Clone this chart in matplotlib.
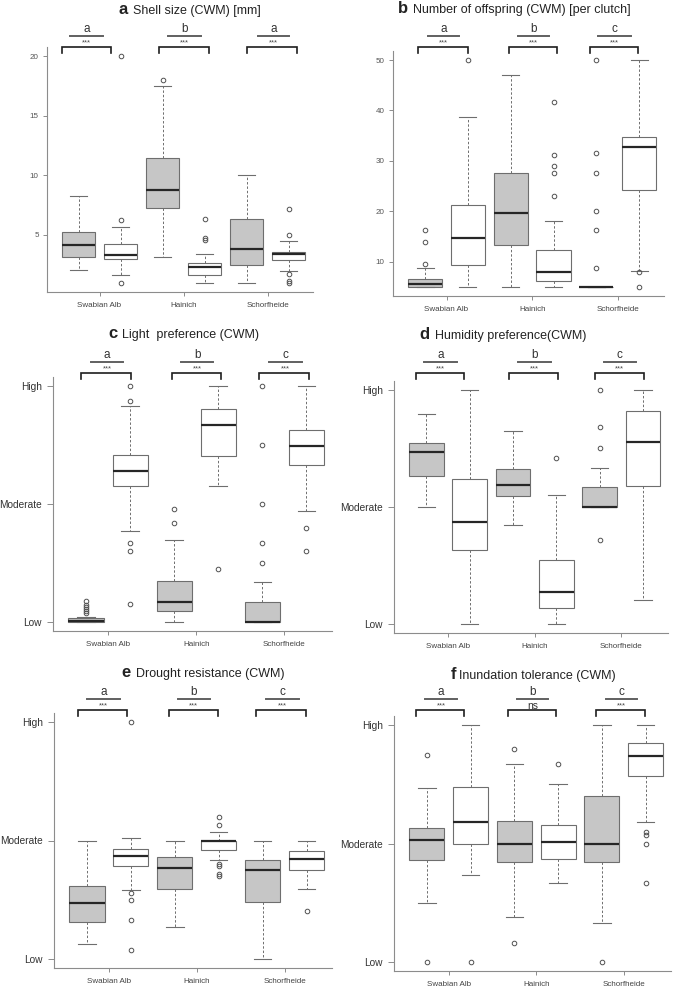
import numpy as np
import matplotlib
matplotlib.use("Agg")
import matplotlib.pyplot as plt
from matplotlib import transforms

plt.rcParams['font.family'] = ['Liberation Sans', 'DejaVu Sans']

# box stats per panel: [whisker low, q1, median, q3, whisker high] for
# Swabian Alb (grey, white), Hainich (grey, white), Schorfheide (grey, white)
shell_stats = [[2.1, 3.13, 4.13, 5.25, 8.24], [1.65, 2.99, 3.3, 4.25, 5.64],
               [3.18, 7.26, 8.8, 11.42, 17.5], [0.98, 1.68, 2.35, 2.65, 3.41],
               [0.98, 2.49, 3.85, 6.37, 10.0], [2.0, 2.9, 3.4, 3.6, 4.5]]
shell_fliers = [[], [20, 6.23, 0.98], [18], [6.3, 4.75, 4.6], [], [7.18, 5.0, 1.7, 1.17, 0.98]]

offspring_stats = [[5.0, 5.06, 5.5, 6.64, 8.8], [5.0, 9.34, 14.7, 21.3, 38.7],
                   [5.0, 13.3, 19.6, 27.5, 47.0], [5.0, 6.2, 8.0, 12.4, 18.1],
                   [5.0, 5.0, 5.0, 5.0, 5.0], [8.2, 24.2, 32.8, 34.8, 50.0]]
offspring_fliers = [[16.26, 14.0, 9.47], [50], [], [41.6, 31.2, 29.0, 27.5, 23.0],
                    [50, 31.5, 27.5, 20.0, 16.3, 8.8], [8.0, 5.0]]

light_stats = [[0, 0, 0.005, 0.028, 0.042], [0.77, 1.15, 1.28, 1.42, 1.83],
               [0, 0.093, 0.17, 0.345, 0.695], [1.15, 1.41, 1.67, 1.81, 2.0],
               [0, 0, 0, 0.167, 0.333], [0.94, 1.33, 1.49, 1.63, 2.0]]
light_fliers = [[0.07, 0.09, 0.11, 0.12, 0.14, 0.175], [2.0, 1.88, 0.67, 0.60, 0.15],
                [0.96, 0.84], [0.446], [2.0, 1.5, 1.0, 0.67, 0.5], [0.80, 0.60]]

humid_stats = [[1.0, 1.268, 1.473, 1.547, 1.795], [0, 0.63, 0.869, 1.242, 2.0],
               [0.849, 1.094, 1.185, 1.328, 1.655], [0, 0.137, 0.27, 0.55, 1.10],
               [1.0, 1.0, 1.0, 1.168, 1.336], [0.2, 1.18, 1.553, 1.826, 2.0]]
humid_fliers = [[], [], [], [1.42], [2.0, 1.684, 1.504, 0.715], []]

drought_stats = [[0.124, 0.31, 0.47, 0.611, 1.0], [0.583, 0.78, 0.865, 0.927, 1.025],
                 [0.268, 0.592, 0.763, 0.859, 1.0], [0.831, 0.921, 1.0, 1.0, 1.068],
                 [0, 0.479, 0.749, 0.831, 1.0], [0.592, 0.749, 0.842, 0.91, 1.0]]
drought_fliers = [[], [2.0, 0.555, 0.499, 0.33, 0.073], [],
                  [1.203, 1.13, 0.80, 0.78, 0.718, 0.70], [], [0.4]]

inund_stats = [[0.496, 0.86, 1.03, 1.131, 1.472], [0.736, 1.0, 1.182, 1.475, 2.0],
               [0.375, 0.843, 1.0, 1.188, 1.67], [0.669, 0.869, 1.016, 1.157, 1.503],
               [0.33, 0.843, 1.0, 1.399, 2.0], [1.182, 1.574, 1.738, 1.85, 2.0]]
inund_fliers = [[1.752, 0], [0], [1.80, 0.16], [1.67], [0], [1.10, 1.07, 1.0, 0.666]]

sites = ['Swabian Alb', 'Hainich', 'Schorfheide']
panel_letters = ['a', 'b', 'c', 'd', 'e', 'f']
panel_titles = ['Shell size (CWM) [mm]', 'Number of offspring (CWM) [per clutch]',
                'Light  preference (CWM)', 'Humidity preference(CWM)',
                'Drought resistance (CWM)', 'Inundation tolerance (CWM)']
group_letters = ['a', 'b', 'a', 'a', 'b', 'c', 'a', 'b', 'c',
                 'a', 'b', 'c', 'a', 'b', 'c', 'a', 'b', 'c']
signif = [['***', '***', '***'], ['***', '***', '***'], ['***', '***', '***'],
          ['***', '***', '***'], ['***', '***', '***'], ['***', 'ns', '***']]
level_ticks = [0, 1, 2]
level_labels = ['Low', 'Moderate', 'High']

W, H = 675, 990
fig = plt.figure(figsize=(W / 100, H / 100), dpi=100)

# layout in pixels: left, top, right, bottom of plot area
boxes_px = [(47, 47, 313, 292), (393, 51, 664, 296),
            (53, 377, 332, 631), (394, 381, 668, 633),
            (54, 713, 332, 968), (394, 716, 671, 971)]
# title: text start x, baseline y, gap before bold letter
title_px = [(133, 14, 5), (413, 13, 5), (122, 338, 4), (435, 339, 5), (136, 677, 5), (459, 679, 3)]
bracket_y = [47, 47, 373, 373, 710, 710]
brackets = [[(0.61, 1.78), (2.92, 4.11), (5.02, 6.21)],
            [(0.84, 2.0), (2.95, 4.09), (4.84, 5.98)],
            [(0.89, 2.02), (2.95, 4.07), (4.93, 6.05)],
            [(0.75, 1.87), (2.91, 4.03), (4.89, 6.02)],
            [(0.80, 1.91), (2.86, 3.98), (4.86, 5.98)],
            [(0.75, 1.86), (2.85, 3.96), (4.86, 5.99)]]
shorts = [[(0.8, 1.59), (3.14, 3.92), (5.26, 6.02)],
          [(1.07, 1.79), (3.16, 3.9), (5.05, 5.81)],
          [(1.11, 1.84), (3.16, 3.89), (5.14, 5.89)],
          [(0.95, 1.71), (3.11, 3.87), (5.09, 5.83)],
          [(1.0, 1.75), (3.07, 3.80), (5.07, 5.82)],
          [(0.95, 1.70), (3.06, 3.78), (5.09, 5.81)]]

all_stats = [shell_stats, offspring_stats, light_stats, humid_stats, drought_stats, inund_stats]
all_fliers = [shell_fliers, offspring_fliers, light_fliers, humid_fliers, drought_fliers, inund_fliers]
yticks_num = [[5, 10, 15, 20], [10, 20, 30, 40, 50]]

grey_fill = '#c6c6c6'
edge = '#6e6e6e'
axis_col = '#8c8c8c'


def fy(ypx):
    return 1 - ypx / H


for i in range(6):
    l, t, r, b = boxes_px[i]
    ax = fig.add_axes([l / W, 1 - b / H, (r - l) / W, (b - t) / H])
    stats = []
    for s, fl in zip(all_stats[i], all_fliers[i]):
        stats.append(dict(whislo=s[0], q1=s[1], med=s[2], q3=s[3], whishi=s[4], fliers=fl))
    bp = ax.bxp(stats, positions=range(1, 7), widths=0.8, capwidths=0.4,
                patch_artist=True, manage_ticks=False,
                boxprops=dict(edgecolor=edge, linewidth=0.8),
                medianprops=dict(color='#262626', linewidth=1.6),
                whiskerprops=dict(color=edge, linewidth=0.7, linestyle=(0, (2.5, 2))),
                capprops=dict(color=edge, linewidth=0.8),
                flierprops=dict(marker='o', markersize=3.3, markerfacecolor='none',
                                markeredgecolor='#505050', markeredgewidth=0.7))
    for k, patch in enumerate(bp['boxes']):
        patch.set_facecolor(grey_fill if k % 2 == 0 else 'white')

    lo = min(min(s[0] for s in all_stats[i]), min(min(f) if f else 99 for f in all_fliers[i]))
    hi = max(max(s[4] for s in all_stats[i]), max(max(f) if f else -99 for f in all_fliers[i]))
    rng = hi - lo
    ax.set_ylim(lo - 0.04 * rng, hi + 0.04 * rng)
    ax.set_xlim(0.25, 6.58)

    for sp in ['top', 'right']:
        ax.spines[sp].set_visible(False)
    for sp in ['left', 'bottom']:
        ax.spines[sp].set_color(axis_col)
        ax.spines[sp].set_linewidth(0.8)

    ax.set_xticks([1.5, 3.5, 5.5])
    ax.set_xticklabels(sites, fontsize=5.8, color='#444444')
    ax.tick_params(axis='x', length=3, width=0.7, color=axis_col, pad=4)
    if i < 2:
        ax.set_yticks(yticks_num[i])
        ax.set_yticklabels([str(v) for v in yticks_num[i]], fontsize=5.8, color='#555555')
        ax.tick_params(axis='y', length=3, width=0.7, color=axis_col, pad=3)
    else:
        ax.set_yticks(level_ticks)
        ax.set_yticklabels(level_labels, fontsize=7.3, color='#333333')
        ax.tick_params(axis='y', length=4, width=0.7, color=axis_col, pad=4)

    # title
    tx, ty, gap = title_px[i]
    fig.text((tx - gap) / W, fy(ty), panel_letters[i], ha='right', va='baseline',
             fontsize=12, fontweight='bold', color='#222222')
    fig.text(tx / W, fy(ty), panel_titles[i], ha='left', va='baseline',
             fontsize=9, color='#222222')

    # significance brackets
    trans = transforms.blended_transform_factory(ax.transData, fig.transFigure)
    yb = bracket_y[i]
    for g in range(3):
        x0, x1 = brackets[i][g]
        ax.plot([x0, x0, x1, x1], [fy(yb + 6), fy(yb), fy(yb), fy(yb + 6)],
                transform=trans, color='#1e1e1e', linewidth=1.2, clip_on=False,
                solid_joinstyle='miter')
        s0, s1 = shorts[i][g]
        ax.plot([s0, s1], [fy(yb - 11), fy(yb - 11)], transform=trans,
                color='#606060', linewidth=1.4, clip_on=False)
        xm = (s0 + s1) / 2
        ax.text(xm, fy(yb - 18), group_letters[i * 3 + g], transform=trans,
                ha='center', va='center', fontsize=8.5, color='#333333')
        if signif[i][g] == 'ns':
            ax.text(xm, fy(yb - 4), 'ns', transform=trans, ha='center', va='center',
                    fontsize=7.5, color='#333333')
        else:
            ax.text(xm, fy(yb - 4.5), signif[i][g], transform=trans, ha='center',
                    va='center', fontsize=5.5, color='#444444')

fig.savefig('out.png', dpi=100, facecolor='white')
